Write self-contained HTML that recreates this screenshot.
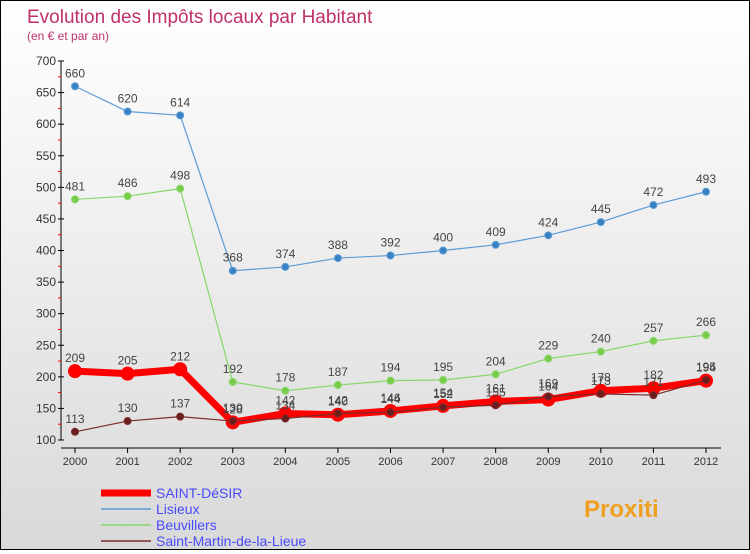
<!DOCTYPE html>
<html><head><meta charset="utf-8"><style>
html,body{margin:0;padding:0}
body{width:750px;height:550px;overflow:hidden;font-family:"Liberation Sans",sans-serif}
#wrap{position:relative;width:748px;height:548px;border:1px solid #000;background:linear-gradient(#fff,#d9d9d9)}
</style></head><body>
<div id="wrap">
<svg id="chart" width="748" height="548"></svg>
</div>
<script>
const years=["2000","2001","2002","2003","2004","2005","2006","2007","2008","2009","2010","2011","2012"];
const lisieux=[660,620,614,368,374,388,392,400,409,424,445,472,493];
const beuvillers=[481,486,498,192,178,187,194,195,204,229,240,257,266];
const saintDesir=[209,205,212,128,142,140,146,154,161,164,178,182,194];
const saintMartin=[113,130,137,130,134,142,144,152,155,169,173,171,195];
const yTicks=[100,150,200,250,300,350,400,450,500,550,600,650,700];
const NS="http://www.w3.org/2000/svg";
const svg=document.getElementById('chart');
function X(i){return 74+i*(705-74)/12;}
function Y(v){return 439-(v-100)*(439-60)/600;}
function el(t,a,p){const e=document.createElementNS(NS,t);for(const k in a)e.setAttribute(k,a[k]);(p||svg).appendChild(e);return e;}
function txt(s,a){const e=el('text',a);e.textContent=s;return e;}
let t=txt("Evolution des Impôts locaux par Habitant",{x:26,y:22,fill:"#c0306a","font-size":19});

t=txt("(en € et par an)",{x:26,y:39,fill:"#c0306a","font-size":12});

let ax=el('line',{x1:60,y1:Y(700),x2:60,y2:Y(100),stroke:"#000"});

yTicks.forEach(v=>{el('line',{x1:57,x2:63,y1:Y(v),y2:Y(v),stroke:"#000"});
 if(v<700)el('line',{x1:57,x2:60,y1:Y(v+25),y2:Y(v+25),stroke:"#f00"});
 const l=txt(v,{x:55,y:Y(v)+4,"text-anchor":"end","font-size":12,fill:"#333"});
 });
ax=el('line',{x1:60,y1:447,x2:720,y2:447,stroke:"#000"});

years.forEach((y,i)=>{el('line',{x1:X(i),x2:X(i),y1:447,y2:452,stroke:"#000"});
 const l=txt(y,{x:X(i),y:464,"text-anchor":"middle","font-size":11,fill:"#333"});
 });
function series(vals,color,w,r,name,dot,lbl){
 const g=el('g',{});
 el('polyline',{points:vals.map((v,i)=>X(i)+","+Y(v)).join(" "),fill:"none",stroke:color,"stroke-width":w,"stroke-linejoin":"round"},g);
 vals.forEach((v,i)=>{const c=el('circle',{cx:X(i),cy:Y(v),r:r,fill:dot,stroke:color,"stroke-width":1},g);
  
  if(lbl){const l=el('text',{x:X(i),y:Y(v)-9,"text-anchor":"middle","font-size":12,fill:"#444"},g);l.textContent=v;}});
}
series(lisieux,"#5b9bd5",1.2,3.5,"lisieux-series","#3a82c4",true);
series(beuvillers,"#86d86a",1.2,3.5,"beuvillers-series","#7acb4a",true);
series(saintDesir,"#f00",7,6.5,"saint-desir-series","#f00",true);
series(saintMartin,"#7a2a2a",1.2,3.5,"saint-martin-series","#6b1e1e",true);
const leg=[["SAINT-DéSIR","#f00",7],["Lisieux","#5b9bd5",1.5],["Beuvillers","#86d86a",1.5],["Saint-Martin-de-la-Lieue","#7a2a2a",1.5]];
leg.forEach((d,i)=>{const y=492+i*16;const g=el('g',{});
 
 el('line',{x1:100,x2:150,y1:y,y2:y,stroke:d[1],"stroke-width":d[2]},g);
 const l=el('text',{x:155,y:y+5,"font-size":14,fill:"#4a4aff"},g);l.textContent=d[0];});
t=txt("Proxiti",{x:583,y:516,"font-size":24,"font-weight":"bold",fill:"#f0a020"});

</script>
</body></html>
